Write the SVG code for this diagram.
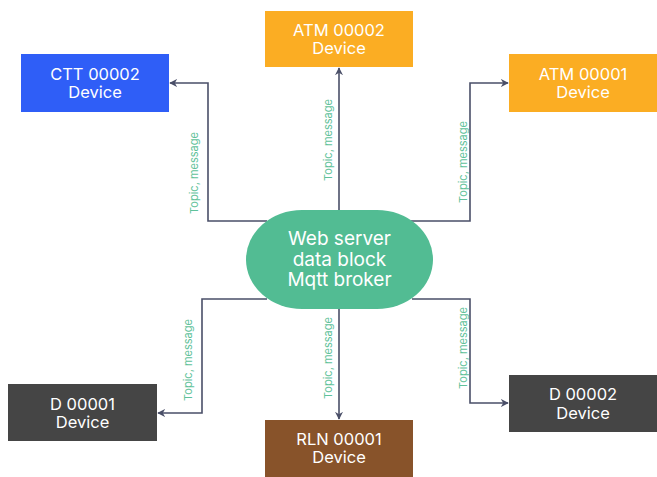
<svg xmlns="http://www.w3.org/2000/svg" width="657" height="477" viewBox="0 0 657 477">
<defs>
<style>
.node text{font-family:Inter,"Liberation Sans",sans-serif;font-size:16.5px;fill:#ffffff;text-anchor:middle}
.hub text{font-family:Inter,"Liberation Sans",sans-serif;font-size:19px;fill:#ffffff;text-anchor:middle}
.conn path{fill:none;stroke:#4a4f68;stroke-width:1.6;marker-end:url(#arr)}
.lbl{font-family:Inter,"Liberation Sans",sans-serif;font-size:11px;fill:#5fc29a;text-anchor:middle}
</style>
<marker id="arr" viewBox="0 0 10 10" refX="9" refY="5" markerWidth="8" markerHeight="8" orient="auto" markerUnits="userSpaceOnUse">
<path d="M0,0 L10,5 L0,10 L3,5 Z" fill="#4a4f68"/>
</marker>
</defs>
<rect width="657" height="477" fill="#ffffff"/>
<g class="conn" id="connectors">
<path d="M267,221 H208 V83 H170"/>
<path d="M339,210 V68"/>
<path d="M411,221 H470 V83 H508"/>
<path d="M267,299 H202 V413 H158"/>
<path d="M339,309 V419"/>
<path d="M412,299 H470 V403 H508"/>
</g>
<g id="labels">
<text class="lbl" transform="translate(198,173) rotate(-90)">Topic, message</text>
<text class="lbl" transform="translate(332,140) rotate(-90)">Topic, message</text>
<text class="lbl" transform="translate(467,162) rotate(-90)">Topic, message</text>
<text class="lbl" transform="translate(192,360) rotate(-90)">Topic, message</text>
<text class="lbl" transform="translate(332,358) rotate(-90)">Topic, message</text>
<text class="lbl" transform="translate(467,348) rotate(-90)">Topic, message</text>
</g>
<g class="hub" id="hub">
<rect x="246" y="210" width="187" height="99" rx="56" ry="50" fill="#52bc93"/>
<text x="339.5" y="245">Web server</text>
<text x="339.5" y="266">data block</text>
<text x="339.5" y="286">Mqtt broker</text>
</g>
<g class="node" id="ctt00002">
<rect x="21" y="54" width="148" height="58" fill="#2f5ef7"/>
<text x="95" y="80">CTT 00002</text>
<text x="95" y="98">Device</text>
</g>
<g class="node" id="atm00002">
<rect x="265" y="11" width="148" height="56" fill="#fbad23"/>
<text x="339" y="36">ATM 00002</text>
<text x="339" y="54">Device</text>
</g>
<g class="node" id="atm00001">
<rect x="509" y="54" width="148" height="58" fill="#fbad23"/>
<text x="583" y="80">ATM 00001</text>
<text x="583" y="98">Device</text>
</g>
<g class="node" id="d00001">
<rect x="8" y="384" width="149" height="57" fill="#454545"/>
<text x="82.5" y="410">D 00001</text>
<text x="82.5" y="428">Device</text>
</g>
<g class="node" id="rln00001">
<rect x="265" y="420" width="148" height="57" fill="#88532a"/>
<text x="339" y="445">RLN 00001</text>
<text x="339" y="463">Device</text>
</g>
<g class="node" id="d00002">
<rect x="509" y="375" width="148" height="57" fill="#454545"/>
<text x="583" y="400">D 00002</text>
<text x="583" y="419">Device</text>
</g>
</svg>
